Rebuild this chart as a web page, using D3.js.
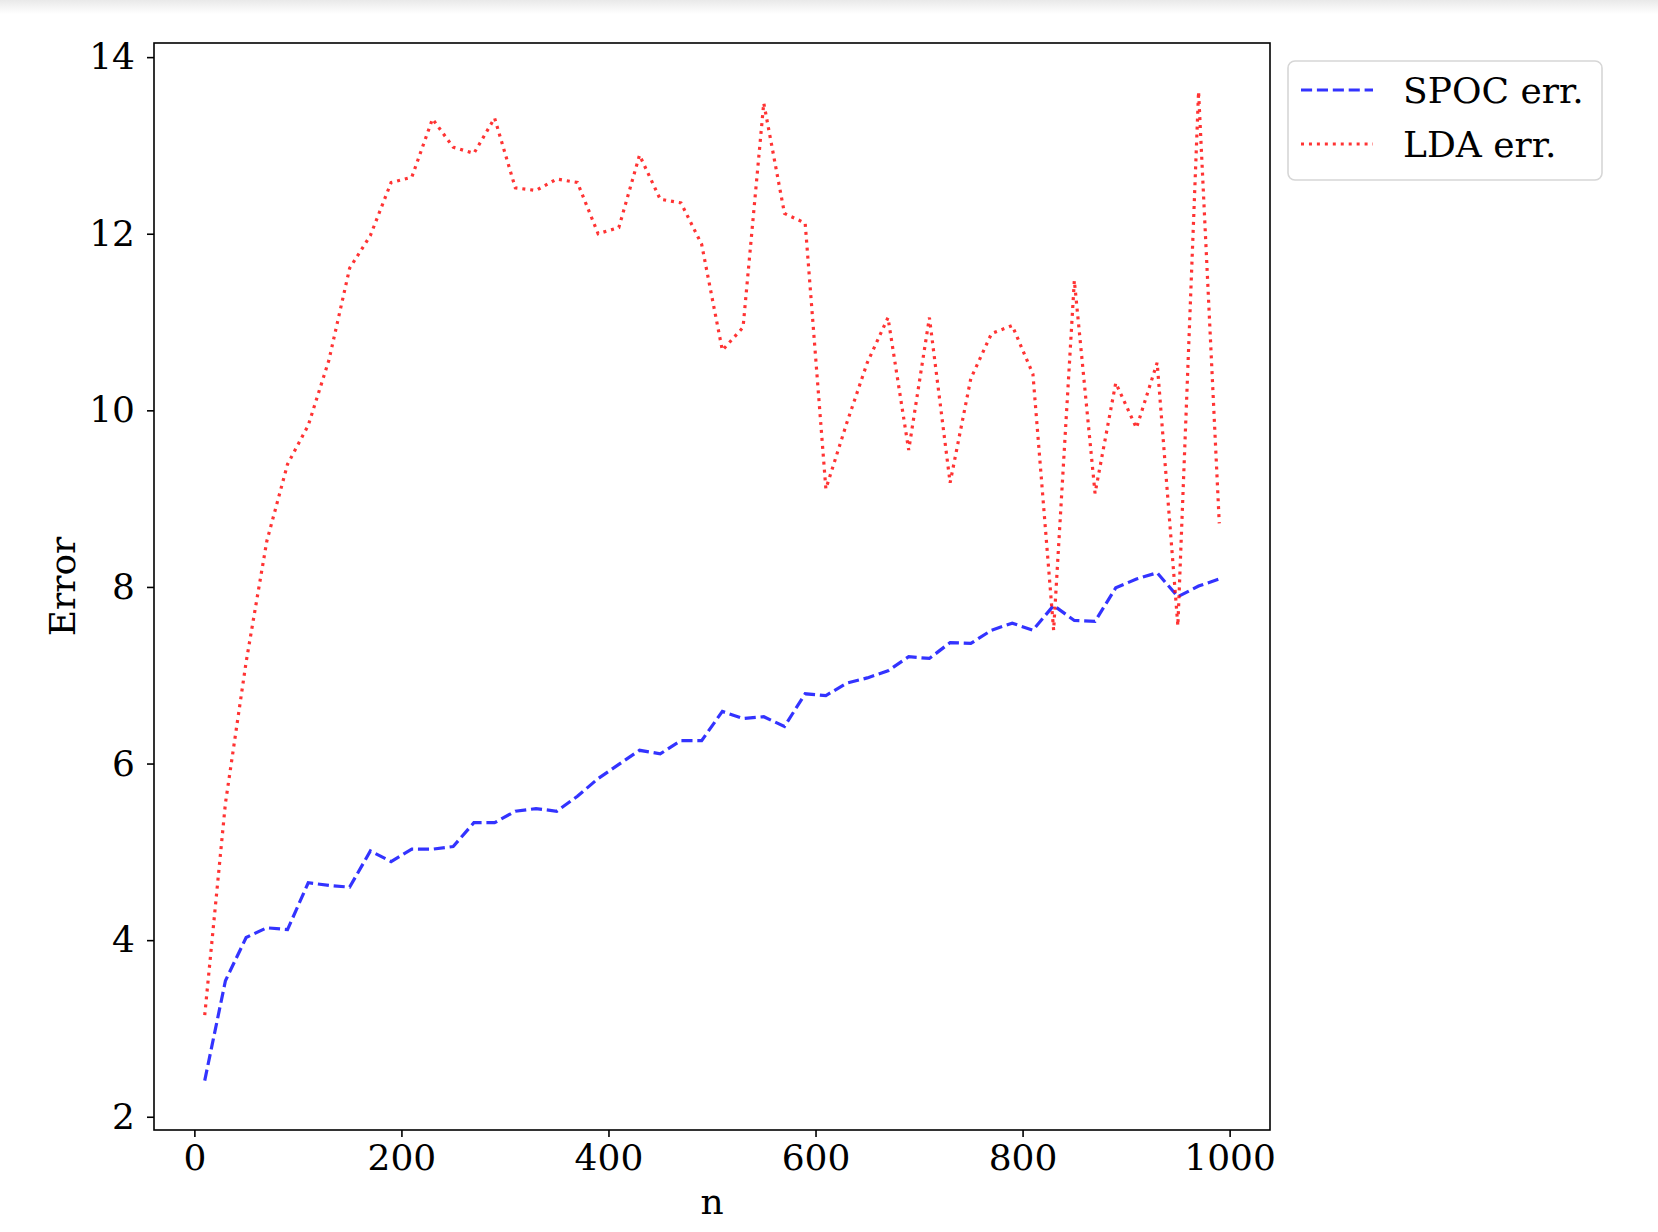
<!DOCTYPE html>
<html>
<head>
<meta charset="utf-8">
<script src="https://cdn.jsdelivr.net/npm/d3@7"></script>
<style>
  body { margin: 0; background: #fff; }
  svg text { font-family: "DejaVu Serif", serif; fill: #000; }
</style>
</head>
<body>
<div id="chart"></div>
<script>
// sample sizes n
var nValues = [10, 30, 50, 70, 90, 110, 130, 150, 170, 190,
               210, 230, 250, 270, 290, 310, 330, 350, 370, 390,
               410, 430, 450, 470, 490, 510, 530, 550, 570, 590,
               610, 630, 650, 670, 690, 710, 730, 750, 770, 790,
               810, 830, 850, 870, 890, 910, 930, 950, 970, 990];

// SPOC error per n
var spocErr = [2.41, 3.54, 4.03, 4.14, 4.12, 4.65, 4.62, 4.60, 5.01, 4.89,
               5.03, 5.03, 5.06, 5.33, 5.33, 5.46, 5.49, 5.46, 5.63, 5.83,
               5.99, 6.15, 6.11, 6.26, 6.26, 6.59, 6.51, 6.53, 6.42, 6.79,
               6.77, 6.91, 6.97, 7.05, 7.21, 7.19, 7.37, 7.36, 7.51, 7.59,
               7.51, 7.79, 7.62, 7.61, 7.99, 8.09, 8.16, 7.89, 8.01, 8.09];

// LDA error per n
var ldaErr = [3.15, 5.55, 7.15, 8.52, 9.39, 9.83, 10.57, 11.61, 11.98, 12.58,
              12.64, 13.30, 12.98, 12.91, 13.31, 12.52, 12.49, 12.62, 12.58, 12.00,
              12.07, 12.89, 12.39, 12.35, 11.88, 10.68, 10.94, 13.48, 12.23, 12.12,
              9.11, 9.85, 10.54, 11.05, 9.55, 11.05, 9.18, 10.36, 10.87, 10.96,
              10.41, 7.51, 11.47, 9.06, 10.31, 9.80, 10.54, 7.56, 13.61, 8.72];

var xTicks = [0, 200, 400, 600, 800, 1000];
var yTicks = [2, 4, 6, 8, 10, 12, 14];
var seriesNames = ["SPOC err.", "LDA err."];

var W = 1658, H = 1232;
var margin = {top: 43, right: 388, bottom: 102, left: 154};
var width = W - margin.left - margin.right,
    height = H - margin.top - margin.bottom;

var svg = d3.select("#chart").append("svg")
    .attr("width", W)
    .attr("height", H);

// faint grey strip along the top edge, as in the screenshot
var grad = svg.append("defs").append("linearGradient")
    .attr("id", "topband").attr("x1", 0).attr("y1", 0).attr("x2", 0).attr("y2", 1);
grad.append("stop").attr("offset", "0%").attr("stop-color", "#e9e9e9");
grad.append("stop").attr("offset", "100%").attr("stop-color", "#ffffff");
svg.append("rect").attr("width", W).attr("height", 14).attr("fill", "url(#topband)");

var g = svg.append("g")
    .attr("transform", "translate(" + margin.left + "," + margin.top + ")");

// scales, with matplotlib-like 5% margins
var x = d3.scaleLinear().domain([-39, 1039]).range([0, width]);
var y = d3.scaleLinear().domain([1.85, 14.16]).range([height, 0]);

var series = [
    {name: seriesNames[0], values: spocErr, color: "blue", dash: "11.1,4.8"},
    {name: seriesNames[1], values: ldaErr, color: "red", dash: "3,4.95"}
];

var line = d3.line()
    .x(function(d) { return x(d.n); })
    .y(function(d) { return y(d.v); });

g.selectAll(".series")
    .data(series)
    .enter()
    .append("path")
    .attr("class", "series")
    .attr("fill", "none")
    .attr("stroke", function(d) { return d.color; })
    .attr("stroke-opacity", 0.8)
    .attr("stroke-width", 3.2)
    .attr("stroke-dasharray", function(d) { return d.dash; })
    .attr("d", function(d) {
        return line(nValues.map(function(n, i) { return {n: n, v: d.values[i]}; }));
    });

// axes
var xAxis = g.append("g")
    .attr("transform", "translate(0," + height + ")")
    .call(d3.axisBottom(x).tickValues(xTicks).tickFormat(d3.format("d"))
        .tickSize(7).tickPadding(7));
var yAxis = g.append("g")
    .call(d3.axisLeft(y).tickValues(yTicks).tickFormat(d3.format("d"))
        .tickSize(7).tickPadding(12));

[xAxis, yAxis].forEach(function(a) {
    a.select(".domain").remove();
    a.selectAll(".tick line").attr("stroke", "#000").attr("stroke-width", 1.6);
    a.selectAll(".tick text").style("font-size", "36px").attr("fill", "#000");
});

// frame
g.append("rect")
    .attr("width", width)
    .attr("height", height)
    .attr("fill", "none")
    .attr("stroke", "#000")
    .attr("stroke-width", 1.6);

// axis labels
g.append("text")
    .attr("x", width / 2)
    .attr("y", height + 84)
    .attr("text-anchor", "middle")
    .style("font-size", "36px")
    .text("n");

g.append("text")
    .attr("transform", "translate(" + (-79) + "," + (height / 2) + ") rotate(-90)")
    .attr("text-anchor", "middle")
    .style("font-size", "36px")
    .text("Error");

// legend
var legend = svg.append("g")
    .attr("transform", "translate(" + (margin.left + width + 18) + "," + (margin.top + 18) + ")");

legend.append("rect")
    .attr("x", 0).attr("y", 0)
    .attr("width", 314).attr("height", 119)
    .attr("rx", 7).attr("ry", 7)
    .attr("fill", "#fff").attr("fill-opacity", 0.8)
    .attr("stroke", "#d6d6d6").attr("stroke-width", 1.6);

var item = legend.selectAll(".item")
    .data(series)
    .enter()
    .append("g")
    .attr("class", "item")
    .attr("transform", function(d, i) { return "translate(0," + (29 + i * 54) + ")"; });

item.append("line")
    .attr("x1", 13).attr("x2", 85)
    .attr("stroke", function(d) { return d.color; })
    .attr("stroke-opacity", 0.8)
    .attr("stroke-width", 3.2)
    .attr("stroke-dasharray", function(d) { return d.dash; });

item.append("text")
    .attr("x", 115)
    .attr("y", 13)
    .style("font-size", "36px")
    .text(function(d) { return d.name; });
</script>
</body>
</html>
